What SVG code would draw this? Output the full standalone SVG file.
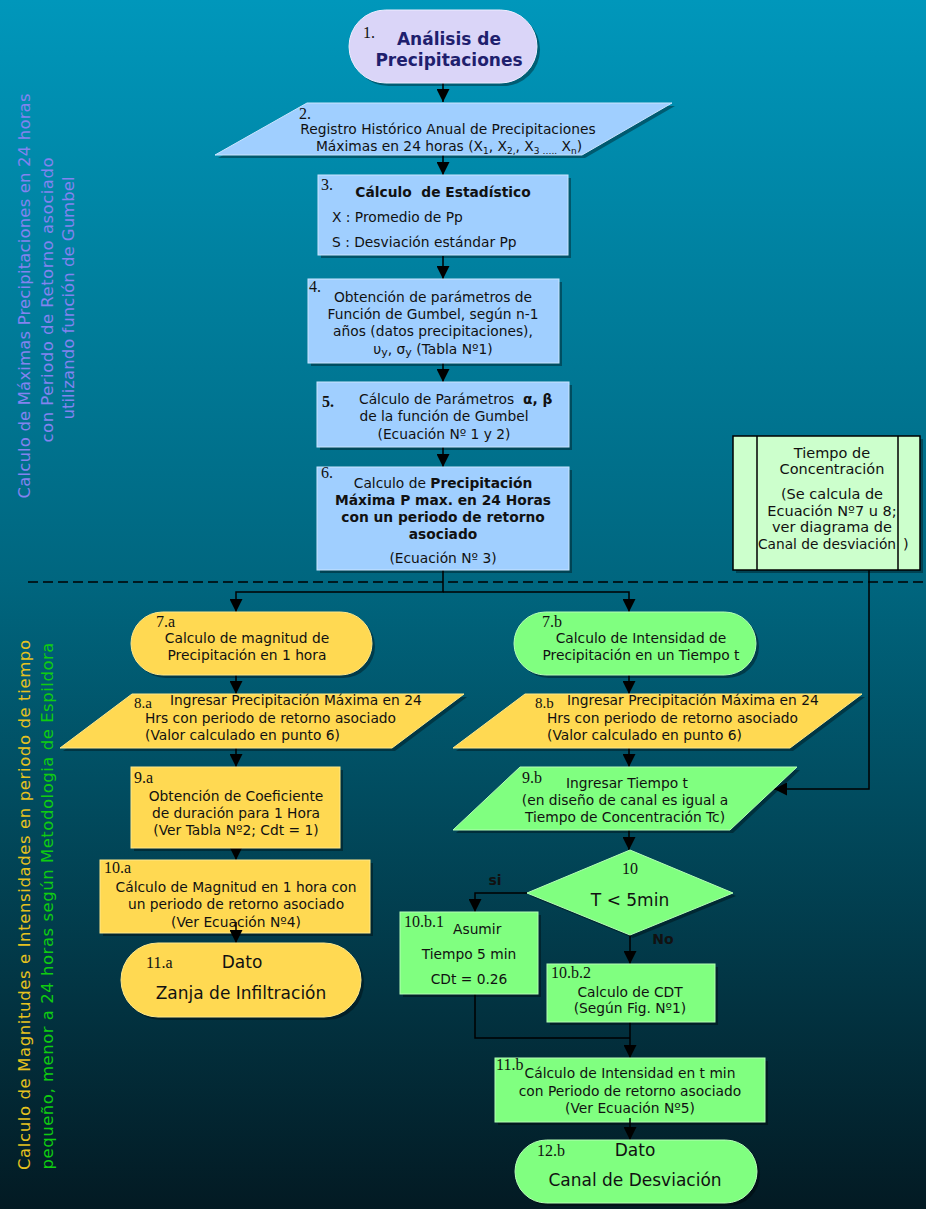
<svg xmlns="http://www.w3.org/2000/svg" width="926" height="1209" viewBox="0 0 926 1209">
<defs>
<linearGradient id="bg" x1="0" y1="0" x2="0" y2="1">
<stop offset="0" stop-color="#0097BB"/>
<stop offset="0.48" stop-color="#00667F"/>
<stop offset="1" stop-color="#031A23"/>
</linearGradient>
<marker id="ah" viewBox="0 0 10 10" refX="10" refY="5" markerWidth="13" markerHeight="13" markerUnits="userSpaceOnUse" orient="auto">
<path d="M0,0 L10,5 L0,10 z" fill="#000"/>
</marker>
<style>
.t{font-family:"DejaVu Sans",Verdana,sans-serif;font-size:13.8px;fill:#111;white-space:pre}
.c{text-anchor:middle}
.b{font-weight:bold}
.n{font-family:"Liberation Serif","Times New Roman",serif;font-size:16px;fill:#111}
.big{font-size:17px}
.sh{fill:#000;opacity:.35}
.blue{fill:#A0CFFF;stroke:#CBE5FF;stroke-width:1}
.yel{fill:#FFD952;stroke:#FFE88A;stroke-width:1}
.grn{fill:#80FF80;stroke:#B5FFB5;stroke-width:1}
.ln{fill:none;stroke:#000;stroke-width:1.5}
.arr{marker-end:url(#ah)}
.vt{font-family:"DejaVu Sans",Verdana,sans-serif;font-size:16.5px;text-anchor:middle}
</style>
</defs>
<rect x="0" y="0" width="926" height="1209" fill="url(#bg)"/>

<g id="side-labels">
<text class="vt" fill="#8383F0" transform="translate(30,296) rotate(-90)" textLength="405" lengthAdjust="spacing">Calculo de Máximas Precipitaciones en 24 horas</text>
<text class="vt" fill="#8383F0" transform="translate(53,300) rotate(-90)" textLength="285" lengthAdjust="spacing">con Periodo de Retorno asociado</text>
<text class="vt" fill="#8383F0" transform="translate(74,298) rotate(-90)" textLength="243" lengthAdjust="spacing">utilizando función de Gumbel</text>
<text class="vt" fill="#E6C21E" transform="translate(30,905) rotate(-90)" textLength="530" lengthAdjust="spacing">Calculo de Magnitudes e Intensidades en periodo de tiempo</text>
<text class="vt" fill="#10CC10" transform="translate(53,906) rotate(-90)" textLength="527" lengthAdjust="spacing">pequeño, menor a 24 horas según Metodologia de Espildora</text>
</g>

<path d="M28,582 H926" stroke="#000" stroke-width="1.3" stroke-dasharray="10,5" fill="none"/>

<g id="connectors">
<path class="ln arr" d="M443,83 V102"/>
<path class="ln arr" d="M443,155 V175"/>
<path class="ln arr" d="M443,256 V279"/>
<path class="ln arr" d="M443,363 V382"/>
<path class="ln arr" d="M443,447 V467"/>
<path class="ln arr" d="M443,570 V592 H236 V612"/>
<path class="ln arr" d="M443,592 H629 V612"/>
<path class="ln arr" d="M236,675 V694"/>
<path class="ln arr" d="M236,748 V767"/>
<path class="ln arr" d="M236,848 V860"/>
<path class="ln arr" d="M629,675 V694"/>
<path class="ln arr" d="M629,748 V767"/>
<path class="ln arr" d="M629,830 V850"/>
<path class="ln arr" d="M527,893 H475 V912"/>
<path class="ln arr" d="M630,935 V964"/>
<path class="ln" d="M475,994 V1038 H630"/>
<path class="ln arr" d="M630,1022 V1058"/>
<path class="ln arr" d="M869,570 V789 H774"/>
</g>

<g id="n1">
<rect class="sh" x="352" y="13" width="188" height="73" rx="36.5"/>
<rect x="349" y="10" width="188" height="73" rx="36.5" fill="#DAD5F8" stroke="#EFEDFF" stroke-width="1"/>
<text class="n" x="363" y="38">1.</text>
<text class="t c b" x="449" y="45" style="font-size:17px;fill:#1F1F6E">Análisis de</text>
<text class="t c b" x="449" y="66" style="font-size:17px;fill:#1F1F6E">Precipitaciones</text>
</g>

<g id="n2">
<polygon class="sh" points="310,106 675,106 585,158 218,158"/>
<polygon class="blue" points="307,103 672,103 582,155 215,155"/>
<text class="n" x="299" y="119">2.</text>
<text class="t c" x="448" y="134">Registro Histórico Anual de Precipitaciones</text>
<text class="t c" x="449" y="151">Máximas en 24 horas (X<tspan font-size="9" dy="3">1</tspan><tspan dy="-3">, X</tspan><tspan font-size="9" dy="3">2,</tspan><tspan dy="-3">, X</tspan><tspan font-size="9" dy="3">3 …..</tspan><tspan dy="-3"> X</tspan><tspan font-size="9" dy="3">n</tspan><tspan dy="-3">)</tspan></text>
</g>

<g id="n3">
<rect class="sh" x="321" y="178" width="250" height="80"/>
<rect class="blue" x="318" y="175" width="250" height="80"/>
<text class="n" x="321" y="190">3.</text>
<text class="t c b" x="443" y="197">Cálculo  de Estadístico</text>
<text class="t" x="332" y="222">X : Promedio de Pp</text>
<text class="t" x="332" y="247">S : Desviación estándar Pp</text>
</g>

<g id="n4">
<rect class="sh" x="311" y="282" width="251" height="84"/>
<rect class="blue" x="308" y="279" width="251" height="84"/>
<text class="n" x="309" y="292">4.</text>
<text class="t c" x="433" y="302">Obtención de parámetros de</text>
<text class="t c" x="433" y="319">Función de Gumbel, según n-1</text>
<text class="t c" x="433" y="336">años (datos precipitaciones),</text>
<text class="t c" x="433" y="354">υ<tspan font-size="11" dy="2">y</tspan><tspan dy="-2">, σ</tspan><tspan font-size="11" dy="2">y</tspan><tspan dy="-2"> (Tabla Nº1)</tspan></text>
</g>

<g id="n5">
<rect class="sh" x="320" y="385" width="252" height="65"/>
<rect class="blue" x="317" y="382" width="252" height="65"/>
<text class="n b" x="322" y="407">5.</text>
<text class="t" x="359" y="404">Cálculo de Parámetros  <tspan class="b">α, β</tspan></text>
<text class="t c" x="444" y="421">de la función de Gumbel</text>
<text class="t c" x="444" y="439">(Ecuación Nº 1 y 2)</text>
</g>

<g id="n6">
<rect class="sh" x="320" y="470" width="252" height="103"/>
<rect class="blue" x="317" y="467" width="252" height="103"/>
<text class="n" x="321" y="478">6.</text>
<text class="t c" x="443" y="488">Calculo de <tspan class="b">Precipitación</tspan></text>
<text class="t c b" x="443" y="505">Máxima P max. en 24 Horas</text>
<text class="t c b" x="443" y="522">con un periodo de retorno</text>
<text class="t c b" x="443" y="539">asociado</text>
<text class="t c" x="443" y="563">(Ecuación Nº 3)</text>
</g>

<g id="tc">
<rect class="sh" x="736" y="439" width="187" height="134"/>
<rect x="733" y="436" width="187" height="134" fill="#CCFFCC" stroke="#000" stroke-width="1.5"/>
<path d="M757,436 V570 M898,436 V570" stroke="#000" stroke-width="1.5" fill="none"/>
<text class="t c" x="832" y="458" style="font-size:14.5px">Tiempo de</text>
<text class="t c" x="832" y="474" style="font-size:14.5px">Concentración</text>
<text class="t c" x="832" y="499" style="font-size:14.5px">(Se calcula de</text>
<text class="t c" x="832" y="516" style="font-size:14.5px">Ecuación Nº7 u 8;</text>
<text class="t c" x="832" y="532" style="font-size:14.5px">ver diagrama de</text>
<text class="t" x="758" y="549" style="font-size:14.5px" textLength="138" lengthAdjust="spacingAndGlyphs">Canal de desviación</text>
<text class="t" x="903" y="549" style="font-size:14.5px">)</text>
</g>

<g id="n7a">
<rect class="sh" x="134" y="615" width="241" height="63" rx="31.5"/>
<rect class="yel" x="131" y="612" width="241" height="63" rx="31.5"/>
<text class="n" x="156" y="627">7.a</text>
<text class="t c" x="247" y="643">Calculo de magnitud de</text>
<text class="t c" x="247" y="660">Precipitación en 1 hora</text>
</g>

<g id="n8a">
<polygon class="sh" points="135,697 467,697 395,751 63,751"/>
<polygon class="yel" points="132,694 464,694 392,748 60,748"/>
<text class="n" x="134" y="708" style="font-size:15px">8.a</text>
<text class="t" x="170" y="705">Ingresar Precipitación Máxima en 24</text>
<text class="t" x="145" y="723">Hrs con periodo de retorno asociado</text>
<text class="t" x="145" y="740">(Valor calculado en punto 6)</text>
</g>

<g id="n9a">
<rect class="sh" x="134" y="770" width="209" height="81"/>
<rect class="yel" x="131" y="767" width="209" height="81"/>
<text class="n" x="134" y="783">9.a</text>
<text class="t c" x="236" y="801">Obtención de Coeficiente</text>
<text class="t c" x="236" y="818">de duración para 1 Hora</text>
<text class="t c" x="236" y="835">(Ver Tabla Nº2; Cdt = 1)</text>
</g>

<g id="n10a">
<rect class="sh" x="103" y="863" width="270" height="73"/>
<rect class="yel" x="100" y="860" width="270" height="73"/>
<text class="n" x="104" y="873">10.a</text>
<text class="t c" x="236" y="892">Cálculo de Magnitud en 1 hora con</text>
<text class="t c" x="236" y="909">un periodo de retorno asociado</text>
<text class="t c" x="236" y="927">(Ver Ecuación Nº4)</text>
<path class="ln arr" d="M236,922 V943"/>
</g>

<g id="n11a">
<rect class="sh" x="124" y="946" width="240" height="74" rx="37"/>
<rect class="yel" x="121" y="943" width="240" height="74" rx="37"/>
<text class="n" x="146" y="968">11.a</text>
<text class="t c big" x="242" y="968">Dato</text>
<text class="t c big" x="241" y="999">Zanja de Infiltración</text>
</g>

<g id="n7b">
<rect class="sh" x="517" y="615" width="242" height="63" rx="31.5"/>
<rect class="grn" x="514" y="612" width="242" height="63" rx="31.5"/>
<text class="n" x="542" y="627">7.b</text>
<text class="t c" x="641" y="643">Calculo de Intensidad de</text>
<text class="t c" x="641" y="660">Precipitación en un Tiempo t</text>
</g>

<g id="n8b">
<polygon class="sh" points="528,697 865,697 793,751 456,751"/>
<polygon class="yel" points="525,694 862,694 790,748 453,748"/>
<text class="n" x="535" y="708" style="font-size:15px">8.b</text>
<text class="t" x="567" y="705">Ingresar Precipitación Máxima en 24</text>
<text class="t" x="547" y="723">Hrs con periodo de retorno asociado</text>
<text class="t" x="547" y="740">(Valor calculado en punto 6)</text>
</g>

<g id="n9b">
<polygon class="sh" points="523,770 800,770 733,833 456,833"/>
<polygon class="grn" points="520,767 797,767 730,830 453,830"/>
<text class="n" x="522" y="783">9.b</text>
<text class="t c" x="627" y="788">Ingresar Tiempo t</text>
<text class="t c" x="625" y="805">(en diseño de canal es igual a</text>
<text class="t c" x="625" y="822">Tiempo de Concentración Tc)</text>
</g>

<g id="n10">
<polygon class="sh" points="633,853 736,896 633,938 530,896"/>
<polygon class="grn" points="630,850 733,893 630,935 527,893"/>
<text class="n c" x="630" y="874">10</text>
<text class="t c big" x="630" y="906">T &lt; 5min</text>
<text class="t c b" x="495" y="885" style="font-size:14px">si</text>
<text class="t c b" x="663" y="944" style="font-size:14px">No</text>
</g>

<g id="n10b1">
<rect class="sh" x="403" y="915" width="138" height="82"/>
<rect class="grn" x="400" y="912" width="138" height="82"/>
<text class="n" x="404" y="927">10.b.1</text>
<text class="t" x="453" y="934">Asumir</text>
<text class="t c" x="469" y="959">Tiempo 5 min</text>
<text class="t c" x="469" y="984">CDt = 0.26</text>
</g>

<g id="n10b2">
<rect class="sh" x="550" y="967" width="168" height="58"/>
<rect class="grn" x="547" y="964" width="168" height="58"/>
<text class="n" x="551" y="978">10.b.2</text>
<text class="t c" x="630" y="997">Calculo de CDT</text>
<text class="t c" x="630" y="1013">(Según Fig. Nº1)</text>
</g>

<g id="n11b">
<rect class="sh" x="498" y="1061" width="270" height="64"/>
<rect class="grn" x="495" y="1058" width="270" height="64"/>
<text class="n" x="496" y="1070">11.b</text>
<text class="t c" x="630" y="1078">Cálculo de Intensidad en t min</text>
<text class="t c" x="630" y="1096">con Periodo de retorno asociado</text>
<text class="t c" x="630" y="1113">(Ver Ecuación Nº5)</text>
<path class="ln arr" d="M630,1118 V1140"/>
</g>

<g id="n12b">
<rect class="sh" x="518" y="1143" width="242" height="63" rx="31.5"/>
<rect class="grn" x="515" y="1140" width="242" height="63" rx="31.5"/>
<text class="n" x="537" y="1156">12.b</text>
<text class="t c big" x="635" y="1156">Dato</text>
<text class="t c big" x="635" y="1186">Canal de Desviación</text>
</g>
</svg>
